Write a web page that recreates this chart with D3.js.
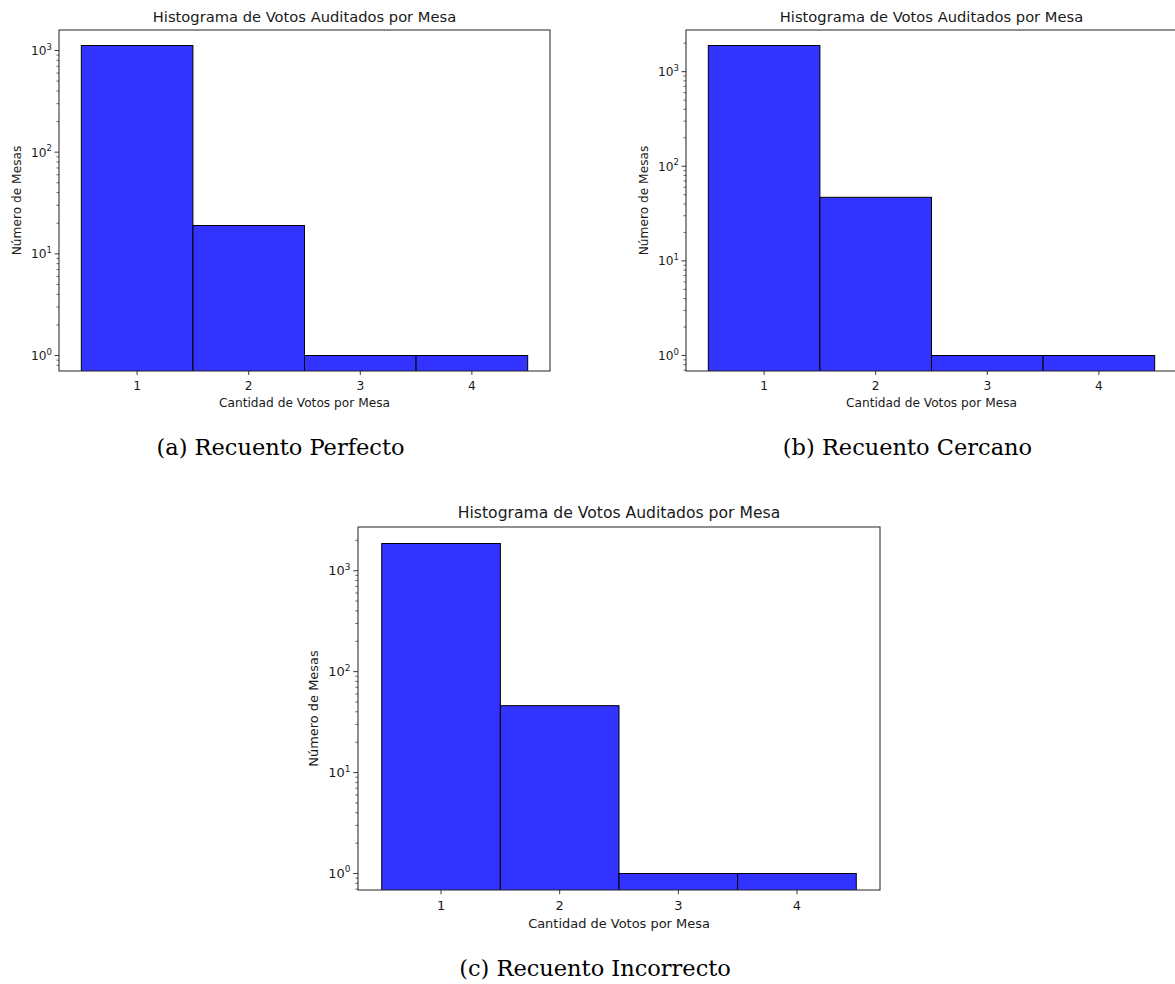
<!DOCTYPE html>
<html>
<head>
<meta charset="utf-8">
<script src="https://cdn.jsdelivr.net/npm/d3@7.9.0/dist/d3.min.js"></script>
<style>
  html, body { margin: 0; padding: 0; background: #fff; }
  svg { display: block; }
  .tick-label, .axis-label, .chart-title { font-family: "DejaVu Sans", sans-serif; fill: #1a1a1a; }
  .caption { font-family: "DejaVu Serif", "Liberation Serif", serif; fill: #000; }
</style>
</head>
<body>
<svg id="fig" width="1175" height="984"></svg>
<script>
// bins (votos por mesa)
const categories = [1, 2, 3, 4];

// counts per bin
const countsPerfecto = [1120, 19, 1, 1];
const countsCercano = [1890, 47, 1, 1];
const countsIncorrecto = [1860, 46, 1, 1];

const captions = ["(a) Recuento Perfecto", "(b) Recuento Cercano", "(c) Recuento Incorrecto"];
const chartTitle = "Histograma de Votos Auditados por Mesa";
const xLabel = "Cantidad de Votos por Mesa";
const yLabel = "Número de Mesas";

// layout of the three panels (axes box in page pixels)
const panels = [
    { counts: countsPerfecto, caption: captions[0], left: 59, right: 550, top: 30, bottom: 371, s: 1, capY: 455 },
    { counts: countsCercano, caption: captions[1], left: 686, right: 1177, top: 30, bottom: 371, s: 1, capY: 455 },
    { counts: countsIncorrecto, caption: captions[2], left: 358, right: 880, top: 527, bottom: 890, s: 1.063, capY: 976 }
];

const svg = d3.select("#fig");

function drawPanel(p) {
    const g = svg.append("g");
    const s = p.s;

    // x: bins centred on integers, matplotlib-style 5% margin
    const x0 = d3.min(categories) - 0.5, x1 = d3.max(categories) + 0.5;
    const xm = (x1 - x0) * 0.05;
    const x = d3.scaleLinear().domain([x0 - xm, x1 + xm]).range([p.left, p.right]);

    // y: log scale with 5% margin in log space
    const lmin = Math.log10(d3.min(p.counts)), lmax = Math.log10(d3.max(p.counts));
    const lm = (lmax - lmin) * 0.05;
    const y = d3.scaleLog().domain([Math.pow(10, lmin - lm), Math.pow(10, lmax + lm)]).range([p.bottom, p.top]);

    const clipId = "clip" + Math.round(p.left);
    g.append("clipPath").attr("id", clipId)
        .append("rect")
        .attr("x", p.left).attr("y", p.top)
        .attr("width", p.right - p.left).attr("height", p.bottom - p.top);

    // bars
    g.append("g").attr("clip-path", `url(#${clipId})`)
        .selectAll("rect")
        .data(categories)
        .join("rect")
        .attr("x", d => x(d - 0.5))
        .attr("width", d => x(d + 0.5) - x(d - 0.5))
        .attr("y", (d, i) => y(p.counts[i]))
        .attr("height", (d, i) => p.bottom + 5 - y(p.counts[i]))
        .attr("fill", "#3333ff")
        .attr("stroke", "#000")
        .attr("stroke-width", 1);

    // frame
    g.append("rect")
        .attr("x", p.left).attr("y", p.top)
        .attr("width", p.right - p.left).attr("height", p.bottom - p.top)
        .attr("fill", "none").attr("stroke", "#222").attr("stroke-width", 1);

    // x axis ticks
    const xAxis = g.append("g");
    categories.forEach(c => {
        xAxis.append("line")
            .attr("x1", x(c)).attr("x2", x(c))
            .attr("y1", p.bottom).attr("y2", p.bottom + 4 * s)
            .attr("stroke", "#222").attr("stroke-width", 0.9);
        xAxis.append("text").attr("class", "tick-label")
            .attr("x", x(c)).attr("y", p.bottom + 19 * s)
            .attr("text-anchor", "middle")
            .attr("font-size", 12.2 * s)
            .text(c);
    });

    // y axis ticks: majors at decades, minors 2..9
    const [dlo, dhi] = y.domain();
    const yAxis = g.append("g");
    for (let k = Math.floor(Math.log10(dlo)); k <= Math.ceil(Math.log10(dhi)); k++) {
        for (let m = 1; m <= 9; m++) {
            const v = m * Math.pow(10, k);
            if (v < dlo || v > dhi) continue;
            const major = m === 1;
            yAxis.append("line")
                .attr("x1", p.left - (major ? 4.5 : 2.5) * s).attr("x2", p.left)
                .attr("y1", y(v)).attr("y2", y(v))
                .attr("stroke", "#222").attr("stroke-width", major ? 0.9 : 0.7);
            if (major) {
                const t = yAxis.append("text").attr("class", "tick-label")
                    .attr("x", p.left - 7 * s).attr("y", y(v) + 4.5 * s)
                    .attr("text-anchor", "end")
                    .attr("font-size", 12.2 * s);
                t.append("tspan").text("10");
                t.append("tspan").attr("dy", -5.5 * s).attr("font-size", 8.5 * s).text(k);
            }
        }
    }

    const cx = (p.left + p.right) / 2;

    // title
    g.append("text").attr("class", "chart-title")
        .attr("x", cx).attr("y", p.top - 8 * s)
        .attr("text-anchor", "middle")
        .attr("font-size", 14.7 * s)
        .text(chartTitle);

    // axis labels
    g.append("text").attr("class", "axis-label")
        .attr("x", cx).attr("y", p.bottom + 36 * s)
        .attr("text-anchor", "middle")
        .attr("font-size", 12.2 * s)
        .text(xLabel);

    g.append("text").attr("class", "axis-label")
        .attr("transform", `translate(${p.left - 38 * s},${(p.top + p.bottom) / 2}) rotate(-90)`)
        .attr("text-anchor", "middle")
        .attr("font-size", 12.2 * s)
        .text(yLabel);

    // subfigure caption
    svg.append("text").attr("class", "caption")
        .attr("x", cx - 24).attr("y", p.capY)
        .attr("text-anchor", "middle")
        .attr("font-size", 22.5)
        .text(p.caption);
}

panels.forEach(drawPanel);
</script>
</body>
</html>
